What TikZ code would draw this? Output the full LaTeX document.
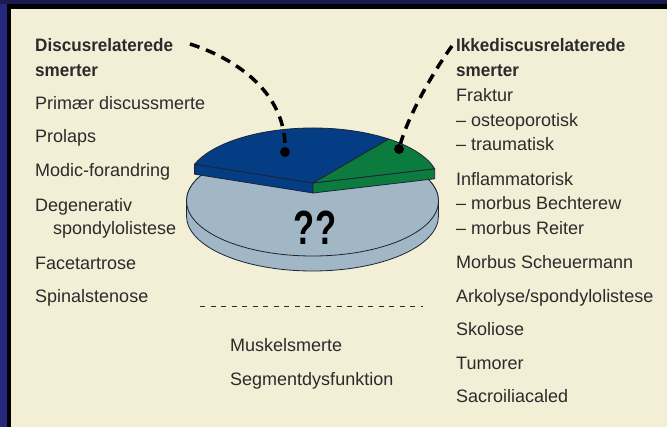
\documentclass[tikz,border=0pt]{standalone}
\usepackage{fontspec}
\setmainfont{Liberation Sans}
\newfontfamily\condbf{Liberation Sans}[FakeStretch=0.95]
\newfontfamily\qfont{Liberation Sans}[FakeStretch=0.72]
\usepackage{tikz}

\definecolor{frame}{HTML}{27277F}
\definecolor{frametop}{HTML}{1A1A4E}
\definecolor{paper}{HTML}{F3EED6}
\definecolor{ink}{HTML}{2B2B2B}
\definecolor{piegray}{HTML}{A2B7C5}
\definecolor{pieblue}{HTML}{053D85}
\definecolor{piegreen}{HTML}{0B7B3E}
\definecolor{edge}{HTML}{1B2438}

\begin{document}
\begin{tikzpicture}[x=1pt, y=1pt,
  lbl/.style={anchor=base west, inner sep=0pt, text=ink, font=\fontsize{18}{20}\selectfont},
  head/.style={lbl, font=\fontsize{18}{20}\selectfont\condbf\bfseries},
  dot/.style={circle, fill=black, inner sep=0pt, minimum size=10pt},
  lead/.style={line width=3.5pt, dash pattern=on 10pt off 7pt},
  slice/.style={draw=edge, line width=0.8pt, line join=round}]

\useasboundingbox (0,0) rectangle (667,427);

% frame
\fill[frame] (0,0) rectangle (667,427);
\fill[frametop] (0,423) rectangle (667,427);
\fill[black] (7,0) rectangle (667,423);
\fill[paper] (10.5,0) rectangle (667,418);

% gray disc
\filldraw[slice, fill=piegray] (186.5,226) -- (186.5,211)
  arc[start angle=180, end angle=360, x radius=126, y radius=55]
  -- (438.5,226) arc[start angle=0, end angle=180, x radius=126, y radius=55] -- cycle;
\filldraw[slice, fill=piegray] (312.5,226) ellipse[x radius=126, y radius=55];

% raised slices
\filldraw[slice, fill=pieblue] (313,244) -- ++(160:126 and 55)
  -- ++(0,-10) -- (313,234) -- cycle;
\filldraw[slice, fill=pieblue] (313,244) -- ++(160:126 and 55)
  arc[start angle=160, end angle=53, x radius=126, y radius=55] -- cycle;
\filldraw[slice, fill=piegreen] (313,244) -- ++(15:126 and 55)
  -- ++(0,-10) -- (313,234) -- cycle;
\filldraw[slice, fill=piegreen] (313,244) -- ++(15:126 and 55)
  arc[start angle=15, end angle=53, x radius=126, y radius=55] -- cycle;

\node (unknown) at (315,199) {\qfont\bfseries\fontsize{48}{48}\selectfont ??};

\node[dot] (bluedot) at (285,275) {};
\node[dot] (greendot) at (399,278) {};

% left column
\node[head] (discus) at (35,375) {Discusrelaterede};
\node[head] (discus2) at (35,350) {smerter};
\node[lbl] (primaer) at (35,317) {Primær discussmerte};
\node[lbl] (prolaps) at (35,284) {Prolaps};
\node[lbl] (modic) at (35,250) {Modic-forandring};
\node[lbl] (degen) at (35,215) {Degenerativ};
\node[lbl] (degen2) at (53,192) {spondylolistese};
\node[lbl] (facet) at (35,157) {Facetartrose};
\node[lbl] (spinal) at (35,124) {Spinalstenose};

% right column
\node[head] (ikke) at (456,375) {Ikkediscusrelaterede};
\node[head] (ikke2) at (456,350) {smerter};
\node[lbl] (fraktur) at (456,325) {Fraktur};
\node[lbl] (osteo) at (456,300) {– osteoporotisk};
\node[lbl] (trauma) at (456,276) {– traumatisk};
\node[lbl] (inflam) at (456,241) {Inflammatorisk};
\node[lbl] (bechterew) at (456,217) {– morbus Bechterew};
\node[lbl] (reiter) at (456,192) {– morbus Reiter};
\node[lbl] (scheuer) at (456,158) {Morbus Scheuermann};
\node[lbl] (arkolyse) at (456,124) {Arkolyse/spondylolistese};
\node[lbl] (skoliose) at (456,91) {Skoliose};
\node[lbl] (tumorer) at (456,57) {Tumorer};
\node[lbl] (sacro) at (456,24) {Sacroiliacaled};

% below the pie
\coordinate (sepleft) at (200,121);
\coordinate (sepright) at (423,121);
\draw[ink, line width=0.8pt, dash pattern=on 5pt off 5.5pt] (sepleft) -- (sepright);
\node[lbl] (muskel) at (230,75) {Muskelsmerte};
\node[lbl] (segment) at (230,41) {Segmentdysfunktion};

% leaders
\coordinate (discusend) at (190,383);
\coordinate (ikkeend) at (452,381);
\draw[lead] (discusend) .. controls (240,367) and (285,332) .. (bluedot);
\draw[lead] (ikkeend) .. controls (440,365) and (410,317) .. (greendot);

\end{tikzpicture}
\end{document}
